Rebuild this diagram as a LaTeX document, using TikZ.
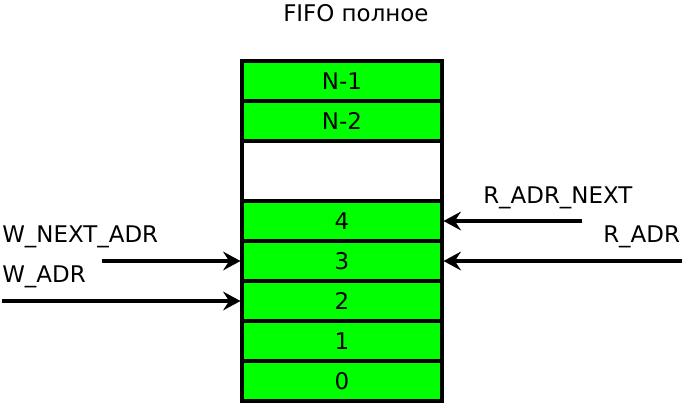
\documentclass[tikz,border=0pt]{standalone}
\usepackage{fontspec}
\setmainfont{DejaVu Sans}
\usetikzlibrary{positioning,arrows.meta}
\definecolor{cellgreen}{RGB}{0,255,0}
\tikzset{
    cell/.style={
        rectangle,
        draw=black,
        fill=cellgreen,
        line width=2.3pt,
        minimum width=150pt,
        minimum height=30pt,
        inner sep=0pt,
        font=\fontsize{17.2}{20}\selectfont
    },
    lbl/.style={
        inner sep=0pt,
        anchor=base west,
        font=\fontsize{17.2}{20}\selectfont
    },
    arr/.style={-{Stealth[length=13pt,width=14pt,inset=4.5pt]},line width=2.3pt,black}
}
\begin{document}
\begin{tikzpicture}[x=0.75pt,y=-0.75pt]
\useasboundingbox (0,0) rectangle (684,403);

% FIFO column
\node[cell] (cN1) at (342,81) {N-1};
\node[cell] (cN2) at (342,121) {N-2};
\node[cell,fill=white,minimum height=45pt] (cgap) at (342,171) {};
\node[cell] (c4) at (342,221) {4};
\node[cell] (c3) at (342,261) {3};
\node[cell] (c2) at (342,301) {2};
\node[cell] (c1) at (342,341) {1};
\node[cell] (c0) at (342,381) {0};

\node[lbl] (title) at (283,22) {FIFO полное};

% write side
\node[lbl] (wnext) at (2,242) {W\_NEXT\_ADR};
\node[lbl] (wadr) at (2,282) {W\_ADR};
\coordinate (wnextS) at (102,261);
\coordinate (wadrS) at (2,301);
\draw[arr] (wnextS) -- (c3.west);
\draw[arr] (wadrS) -- (c2.west);

% read side
\node[lbl] (rnext) at (483,203) {R\_ADR\_NEXT};
\node[lbl] (radr) at (603,242) {R\_ADR};
\coordinate (rnextS) at (582,221);
\coordinate (radrS) at (682,261);
\draw[arr] (rnextS) -- (c4.east);
\draw[arr] (radrS) -- (c3.east);

\end{tikzpicture}
\end{document}
